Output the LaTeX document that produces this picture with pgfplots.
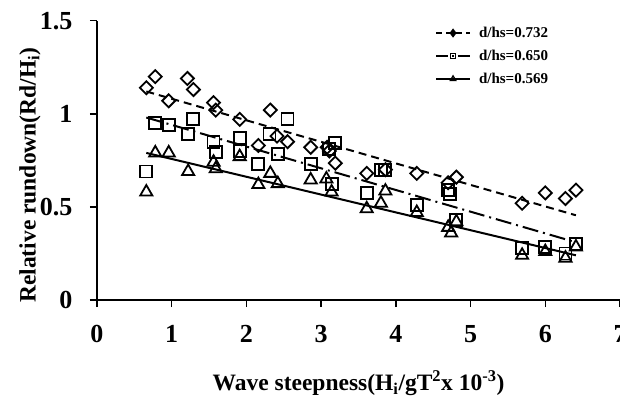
\documentclass[border=0pt]{standalone}
\usepackage{fontspec}
\setmainfont{Liberation Serif}
\usepackage{pgfplots}
\pgfplotsset{compat=1.18}
\begin{document}
\begin{tikzpicture}
\begin{axis}[
  scale only axis,
  width=523pt, height=279.3pt,
  xmin=0, xmax=7, ymin=0, ymax=1.5,
  axis lines=left,
  axis line style={-, line width=1.8pt, black},
  xtick={0,1,...,7}, ytick={0,0.5,1,1.5},
  tick align=outside,
  major tick length=7pt,
  tick style={black, line width=1.5pt},
  /pgf/number format/assume math mode=true,
  ticklabel style={font=\fontsize{26}{26}\selectfont\bfseries},
  xticklabel style={yshift=-15pt},
  yticklabel style={xshift=-14pt},
  xlabel={Wave steepness(H\textsubscript{i}/gT\textsuperscript{2}x 10\textsuperscript{-3})},
  ylabel={Relative rundown(Rd/H\textsubscript{i})},
  label style={font=\fontsize{23.5}{26}\selectfont\bfseries},
  every axis x label/.append style={at={(axis description cs:0.5,0)}, anchor=center, yshift=-83pt},
  every axis y label/.append style={at={(axis description cs:-0.128,0.447)}, anchor=center},
  legend image code/.code={\draw[mark repeat=2,mark phase=2,#1] plot coordinates {(0pt,0pt) (17pt,0pt) (34pt,0pt)};},
  legend style={at={(rel axis cs:0.646,0.985)}, anchor=north west, draw=none, fill=none,
    font=\fontsize{15}{15}\selectfont\bfseries, row sep=7pt, inner sep=0pt,
    /tikz/every odd column/.append style={column sep=6pt}},
  legend cell align=left,
  clip=false,
]
% trend lines
\addplot[forget plot, black, line width=2pt, dash pattern=on 8pt off 5pt] coordinates {(0.66,1.12) (6.41,0.455)};
\addplot[forget plot, black, line width=2pt, dash pattern=on 16pt off 5pt on 2pt off 5pt] coordinates {(0.66,0.98) (6.41,0.31)};
\addplot[forget plot, black, line width=2pt] coordinates {(0.66,0.79) (6.41,0.24)};
% diamonds
\addplot[forget plot, only marks, mark=square, mark size=4.6pt, mark options={rotate=45, line width=1.8pt, black, fill=none}] coordinates {
(0.66,1.14) (0.78,1.20) (0.96,1.07) (1.21,1.19) (1.29,1.13) (1.56,1.06) (1.59,1.02) (1.91,0.97)
(2.32,1.02) (2.16,0.83) (2.41,0.88) (2.55,0.85) (2.86,0.82) (3.08,0.82) (3.11,0.80) (3.19,0.735)
(3.61,0.68) (3.86,0.70) (4.28,0.68) (4.70,0.63) (4.81,0.66) (5.69,0.52) (6.00,0.575) (6.27,0.545) (6.41,0.59)};
% squares
\addplot[forget plot, only marks, mark=square, mark size=6pt, mark options={line width=1.8pt, black, fill=none}] coordinates {
(0.66,0.69) (0.78,0.95) (0.96,0.94) (1.22,0.89) (1.29,0.97) (1.56,0.85) (1.59,0.795) (1.91,0.87)
(1.91,0.80) (2.15,0.73) (2.31,0.89) (2.42,0.785) (2.55,0.97) (2.86,0.73) (3.11,0.81) (3.19,0.845)
(3.15,0.625) (3.61,0.575) (3.80,0.70) (3.86,0.70) (4.28,0.51) (4.70,0.59) (4.73,0.57) (4.81,0.43)
(5.69,0.28) (6.00,0.285) (6.27,0.25) (6.41,0.30)};
% triangles
\addplot[forget plot, only marks, mark=triangle, mark size=7pt, mark options={line width=1.8pt, black, fill=none}] coordinates {
(0.66,0.58) (0.78,0.79) (0.96,0.79) (1.22,0.69) (1.56,0.74) (1.59,0.705) (1.91,0.77) (2.16,0.62)
(2.32,0.68) (2.42,0.625) (2.86,0.645) (3.07,0.65) (3.14,0.58) (3.61,0.49) (3.80,0.52) (3.86,0.585)
(4.28,0.47) (4.70,0.39) (4.74,0.36) (4.81,0.42) (5.69,0.24) (6.00,0.26) (6.27,0.225) (6.41,0.285)};
% legend
\addlegendimage{black, line width=2pt, dash pattern=on 6pt off 4pt, mark=diamond*, mark size=3pt, mark options={solid}}
\addlegendentry{d/hs=0.732}
\addlegendimage{black, line width=2pt, dash pattern=on 12pt off 4pt on 2pt off 4pt, mark=square, mark size=2.5pt, mark options={solid, fill=white, line width=1.3pt}}
\addlegendentry{d/hs=0.650}
\addlegendimage{black, line width=2pt, mark=triangle, mark size=3pt, mark options={solid, line width=1.3pt}}
\addlegendentry{d/hs=0.569}
\coordinate (BL) at (rel axis cs:0,0);
\coordinate (TR) at (rel axis cs:1,1);
\end{axis}
\pgfresetboundingbox
\path[use as bounding box] ([xshift=-97pt,yshift=-99pt]BL) rectangle ([yshift=20.7pt]TR);
\end{tikzpicture}
\end{document}
